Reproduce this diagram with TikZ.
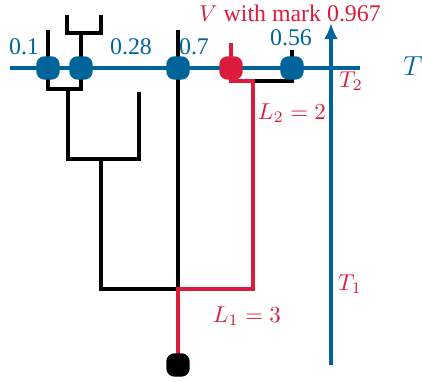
\documentclass[tikz,border=0pt]{standalone}
\usepackage{fontspec}
\setmainfont{Liberation Serif}
\usepackage{tikz}
\usetikzlibrary{arrows.meta}
\definecolor{treeBlue}{HTML}{00649B}
\definecolor{treeRed}{HTML}{DC1C3C}

\begin{document}
\begin{tikzpicture}[x=0.0153cm, y=-0.0153cm, line width=1.6pt,
  vtx/.style={rectangle, rounded corners=3.6pt, minimum size=10.2pt, inner sep=0pt, fill=treeBlue},
  lbl/.style={text=treeBlue, inner sep=1pt, font=\fontsize{10.4}{12}\selectfont},
  rlbl/.style={text=treeRed, inner sep=1pt, font=\fontsize{10.4}{12}\selectfont}]
\useasboundingbox (0,0) rectangle (422,382);
% time axis and horizontal level
\coordinate (hl) at (10,68);
\coordinate (hr) at (360,68);
\draw[treeBlue] (hl) -- (hr);
\coordinate (ab) at (331,365);
\coordinate (at) at (331,23);
\draw[treeBlue, -{Latex[length=7pt,width=6pt]}] (ab) -- (at);
\node[lbl, font=\large] (tT) at (413,66) {$T$};
% vertices on the level
\coordinate (a) at (48,68);
\coordinate (b) at (81,68);
\coordinate (c) at (178,68);
\coordinate (v) at (231,68);
\coordinate (d) at (292,68);
\coordinate (root) at (178,365);
% tree
\coordinate (a0) at (48,30);
\coordinate (b0) at (81,33);
\coordinate (b1) at (67,33);
\coordinate (b2) at (101,33);
\coordinate (b3) at (67,15);
\coordinate (b4) at (101,15);
\coordinate (c0) at (178,30);
\coordinate (d0) at (292,50);
\draw (a0) -- (a);
\draw (b) -- (b0);
\draw (b3) -- (b1) -- (b2) -- (b4);
\draw (c0) -- (c);
\draw (d0) -- (d);
\coordinate (ab1) at (48,89);
\coordinate (ab2) at (81,89);
\coordinate (ab3) at (68,89);
\draw (a) -- (ab1) -- (ab2) -- (b);
\coordinate (e1) at (68,159);
\coordinate (e2) at (139,159);
\coordinate (e3) at (139,92);
\coordinate (e4) at (101,159);
\draw (ab3) -- (e1) -- (e2) -- (e3);
\coordinate (j1) at (101,289);
\coordinate (j0) at (178,289);
\draw (e4) -- (j1) -- (j0) -- (c);
\coordinate (vd1) at (231,81);
\coordinate (vd2) at (253,81);
\coordinate (vd3) at (292,81);
\draw (vd2) -- (vd3) -- (d);
% marked path
\coordinate (v0) at (231,43);
\coordinate (j2) at (253,289);
\draw[treeRed] (v0) -- (v);
\draw[treeRed] (v) -- (vd1) -- (vd2) -- (j2) -- (j0) -- (root);
\node[vtx] (na) at (a) {};
\node[vtx] (nb) at (b) {};
\node[vtx] (nc) at (c) {};
\node[vtx, fill=treeRed] (nv) at (v) {};
\node[vtx] (nd) at (d) {};
\node[vtx, fill=black] (nr) at (root) {};
% labels
\node[lbl] (la) at (24,47) {0.1};
\node[lbl] (lb) at (131,47) {0.28};
\node[lbl] (lc) at (194,47) {0.7};
\node[lbl] (ld) at (291,38) {0.56};
\node[rlbl] (lv) at (290,13) {$V$ with mark 0.967};
\node[rlbl] (lL2) at (292,113) {$L_2=2$};
\node[rlbl] (lL1) at (247,316) {$L_1=3$};
\node[rlbl] (lT2) at (351,81) {$T_2$};
\node[rlbl] (lT1) at (350,284) {$T_1$};
\end{tikzpicture}
\end{document}
